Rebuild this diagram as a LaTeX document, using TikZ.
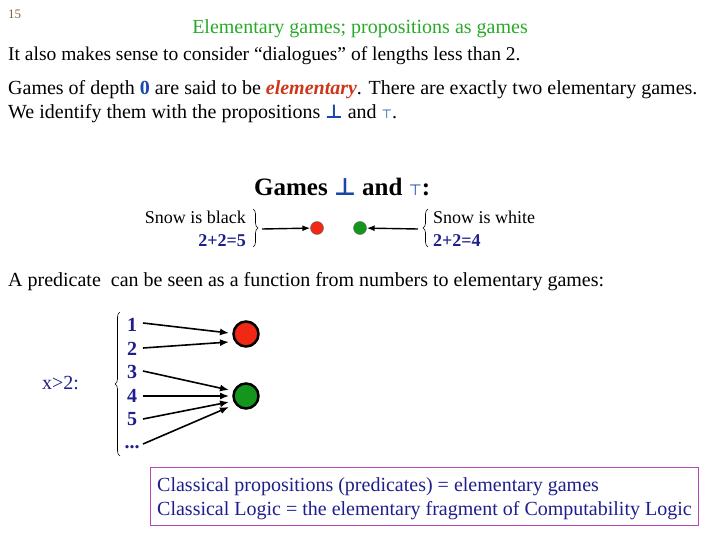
\documentclass[tikz,border=0pt]{standalone}
\usepackage{fontspec}
\setmainfont{Liberation Serif}
\newfontfamily\symfont{DejaVu Sans}
\usetikzlibrary{decorations.pathreplacing,arrows.meta}
\definecolor{ttlgreen}{RGB}{40,170,40}
\definecolor{elemred}{RGB}{205,55,25}
\definecolor{zblue}{RGB}{25,70,170}
\definecolor{navy}{RGB}{30,30,140}
\definecolor{pgnum}{RGB}{130,100,60}
\definecolor{boxmag}{RGB}{185,70,185}
\definecolor{dotred}{RGB}{240,40,20}
\definecolor{dotgreen}{RGB}{20,150,30}
\tikzset{
  txt/.style={anchor=base west,inner sep=0pt,font=\fontsize{20}{22}\selectfont},
  num/.style={anchor=base,inner sep=0pt,text=navy,font=\fontsize{20}{22}\selectfont\bfseries},
  arr/.style={-{Latex[length=9pt,width=7pt]},line width=1.6pt},
  sarr/.style={-{Latex[length=8pt,width=6pt]},line width=1.4pt},
  brc/.style={decorate,decoration={brace,amplitude=5pt},line width=0.6pt},
  bigdot/.style={circle,draw=black,line width=2.5pt,minimum size=25pt,inner sep=0pt},
  smalldot/.style={circle,draw=black!60,line width=0.4pt,minimum size=13pt,inner sep=0pt}
}
\begin{document}
\begin{tikzpicture}[x=1pt,y=-1pt]
\useasboundingbox (0,0) rectangle (720,540);
\node[anchor=base west,inner sep=0pt,text=pgnum,font=\fontsize{13}{15}\selectfont] (pg) at (8,19) {15};
\node[anchor=base,inner sep=0pt,text=ttlgreen,font=\fontsize{20}{22}\selectfont] (title) at (360,34) {Elementary games; propositions as games};
\node[txt,font=\fontsize{19.5}{22}\selectfont] (l1) at (8,61) {It also makes sense to consider “dialogues” of lengths less than 2.};
\node[txt] (l2) at (8,95) {Games of depth {\color{zblue}\bfseries 0} are said to be {\color{elemred}\bfseries\itshape elementary}. There are exactly two elementary games.};
\node[txt] (l3) at (8,119) {We identify them with the propositions {\color{zblue}\symfont\bfseries\fontsize{19}{20}\selectfont ⊥} and {\color{zblue}\symfont\fontsize{12}{12}\selectfont ⊤}.};
\node[anchor=base west,inner sep=0pt,font=\fontsize{25}{28}\selectfont\bfseries] (games) at (254,196) {Games {\color{zblue}\symfont\fontsize{24}{26}\selectfont ⊥} and {\color{zblue}\symfont\mdseries\fontsize{15}{16}\selectfont ⊤}:};
% snow
\node[anchor=base east,inner sep=0pt,font=\fontsize{18}{20}\selectfont] (sb) at (246,224) {Snow is black};
\node[anchor=base east,inner sep=0pt,text=navy,font=\fontsize{18}{20}\selectfont\bfseries] (f5) at (246,246) {2+2=5};
\node[anchor=base west,inner sep=0pt,font=\fontsize{18}{20}\selectfont] (sw) at (433,224) {Snow is white};
\node[anchor=base west,inner sep=0pt,text=navy,font=\fontsize{18}{20}\selectfont\bfseries] (f4) at (433,246) {2+2=4};
\draw[brc] (253,209) -- (253,247);
\draw[brc] (428,247) -- (428,209);
\coordinate (bl) at (262,229);
\coordinate (br) at (418,229);
\node[smalldot,fill=dotred] (rd) at (317,228) {};
\node[smalldot,fill=dotgreen] (gd) at (360,228) {};
\draw[sarr] (bl) -- (rd);
\draw[sarr] (br) -- (gd);
% predicate
\node[txt] (pred) at (8,286) {A predicate\ \ can be seen as a function from numbers to elementary games:};
\node[anchor=base west,inner sep=0pt,text=navy,font=\fontsize{20}{22}\selectfont] (x2) at (42,389) {x>2:};
\draw[brc] (120,456) -- (120,312);
\node[num] (n1) at (132,331) {1};
\node[num] (n2) at (132,355) {2};
\node[num] (n3) at (132,378) {3};
\node[num] (n4) at (132,402) {4};
\node[num] (n5) at (132,425) {5};
\node[num] (n6) at (132,448) {...};
\node[bigdot,fill=dotred] (R) at (246,334) {};
\node[bigdot,fill=dotgreen] (G) at (246,396) {};
\draw[arr] (143,323) -- (229,333);
\draw[arr] (143,348) -- (229,342);
\draw[arr] (143,371) -- (229,390);
\draw[arr] (143,396) -- (229,396);
\draw[arr] (143,419) -- (229,402);
\draw[arr] (143,444) -- (229,407);
% box
\draw[boxmag,line width=0.8pt] (150,467) rectangle (698,525);
\node[anchor=base west,inner sep=0pt,text=navy,font=\fontsize{20}{22}\selectfont] (c1) at (157,491) {Classical propositions (predicates) = elementary games};
\node[anchor=base west,inner sep=0pt,text=navy,font=\fontsize{20}{22}\selectfont] (c2) at (157,515) {Classical Logic = the elementary fragment of Computability Logic};
\end{tikzpicture}
\end{document}
